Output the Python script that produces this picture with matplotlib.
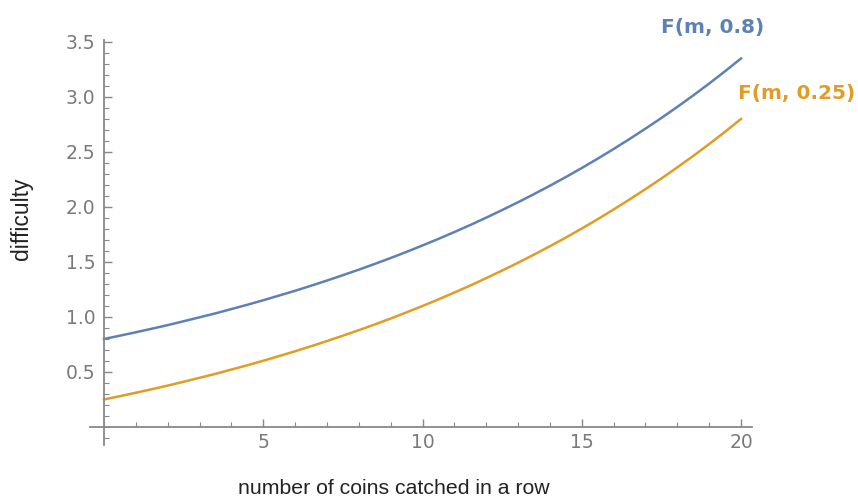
import numpy as np
import matplotlib
matplotlib.use("Agg")
import matplotlib.pyplot as plt
from matplotlib.ticker import MultipleLocator

# values at m = 0, 0.5, ..., 20
coins = [i * 0.5 for i in range(41)]
f_08 = [0.800, 0.830, 0.861, 0.893, 0.926, 0.961, 0.997, 1.033, 1.072, 1.111,
        1.152, 1.195, 1.238, 1.284, 1.331, 1.380, 1.430, 1.482, 1.536, 1.592,
        1.650, 1.710, 1.772, 1.836, 1.903, 1.972, 2.043, 2.117, 2.193, 2.272,
        2.354, 2.439, 2.527, 2.618, 2.712, 2.809, 2.910, 3.014, 3.122, 3.234,
        3.350]
f_025 = [0.250, 0.280, 0.311, 0.343, 0.376, 0.411, 0.447, 0.483, 0.522, 0.561,
         0.602, 0.645, 0.688, 0.734, 0.781, 0.830, 0.880, 0.932, 0.986, 1.042,
         1.100, 1.160, 1.222, 1.286, 1.353, 1.422, 1.493, 1.567, 1.643, 1.722,
         1.804, 1.889, 1.977, 2.068, 2.162, 2.259, 2.360, 2.464, 2.572, 2.684,
         2.800]
labels = ["F(m, 0.8)", "F(m, 0.25)"]

blue = "#5E81B5"
orange = "#E19C24"
grey = "#7a7a7a"

fig = plt.figure(figsize=(8.58, 5.01), dpi=100)
ax = fig.add_axes([90/858, (501-445)/501, (752-90)/858, (445-40)/501])

ax.plot(coins, f_08, color=blue, lw=1.8)
ax.plot(coins, f_025, color=orange, lw=1.8)

ax.set_xlim(-0.44, 20.345)
ax.set_ylim(-0.164, 3.518)

for s in ["top", "right"]:
    ax.spines[s].set_visible(False)
ax.spines["left"].set_position(("data", 0))
ax.spines["bottom"].set_position(("data", 0))
for s in ["left", "bottom"]:
    ax.spines[s].set_color("#888888")
    ax.spines[s].set_linewidth(1.3)

ax.xaxis.set_minor_locator(MultipleLocator(1))
ax.yaxis.set_minor_locator(MultipleLocator(0.1))
ax.set_xticks([5, 10, 15, 20])
ax.set_yticks([0.5, 1.0, 1.5, 2.0, 2.5, 3.0, 3.5])
ax.set_yticklabels(["0.5", "1.0", "1.5", "2.0", "2.5", "3.0", "3.5"])

ax.tick_params(which="both", direction="in", color="#888888", labelcolor=grey,
               labelsize=13.5)
ax.tick_params(which="major", length=6, width=1.0)
ax.tick_params(which="minor", length=3.5, width=0.8)
ax.tick_params(axis="x", which="major", pad=4)
ax.tick_params(axis="y", which="major", pad=6)

fig.text(22/858, 1 - 219/501, "difficulty", rotation=90, ha="center", va="center",
         fontsize=16.5, family="Liberation Sans", color="#222222")
fig.text(394/858, 1 - 489/501, "number of coins catched in a row", ha="center",
         va="center", fontsize=15.3, family="Liberation Sans", color="#222222")

fig.text(713/858, 1 - 28/501, labels[0], ha="center", va="center", fontsize=14.5,
         color=blue, fontweight="bold")
fig.text(797/858, 1 - 93/501, labels[1], ha="center", va="center", fontsize=14.5,
         color=orange, fontweight="bold")

fig.savefig("out.png", dpi=100)
